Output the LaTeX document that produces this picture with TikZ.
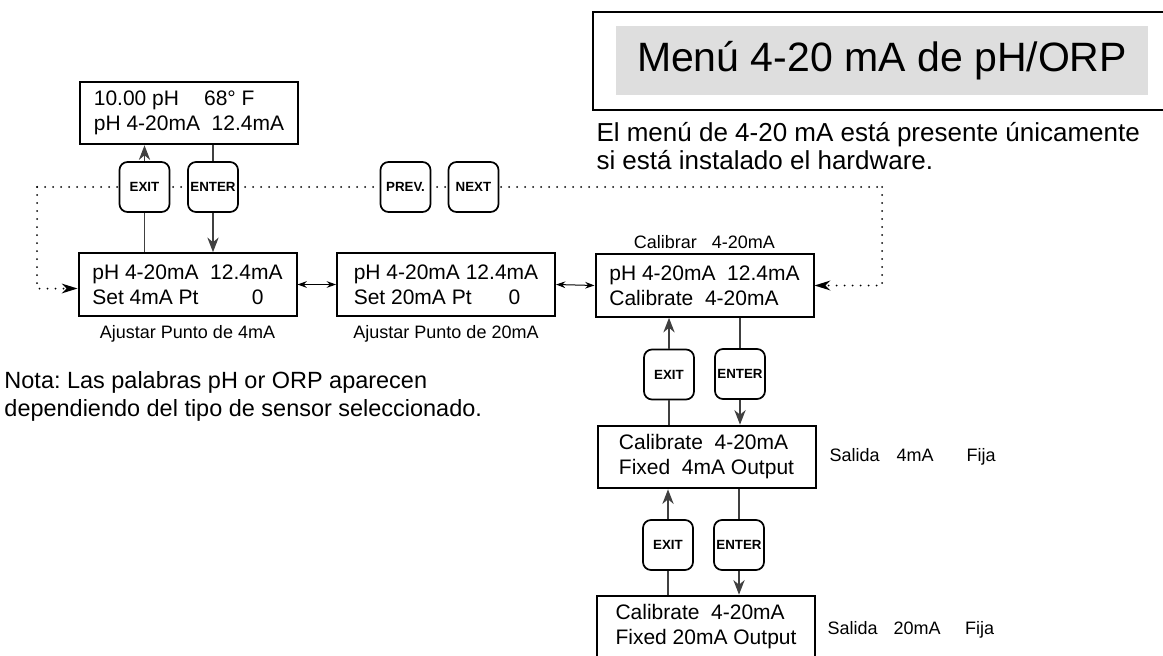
\documentclass[tikz,border=0pt]{standalone}
\usepackage{fontspec}
\setmainfont{Liberation Sans}
\usetikzlibrary{arrows.meta,positioning}
\frenchspacing

\tikzset{every picture/.style={line width=0.75pt}}
\tikzset{
  lcd/.style={draw, line width=1.5pt, minimum width=163.5pt, minimum height=47pt, align=left, inner sep=0pt, font=\fontsize{15.75}{18.75}\selectfont},
  btn/.style={draw, fill=white, line width=1.3pt, rounded corners=6pt, minimum width=37.5pt, minimum height=37.5pt, inner sep=0pt, font=\fontsize{10}{11}\selectfont\bfseries},
  lbl/.style={inner sep=0.75pt, font=\fontsize{13.5}{16}\selectfont},
  note/.style={inner sep=0.75pt, align=left},
  dotline/.style={line width=1.5pt, line cap=round, dash pattern=on 0pt off 6pt},
  flow/.style={color=black!75, line width=0.9pt},
  bigtip/.style={-{Stealth[length=11pt,width=8.5pt]}},
  dottip/.style={-{Stealth[length=12pt,width=7.5pt,line width=0pt]}},
  duotip/.style={{Stealth[length=7pt,width=5pt]}-{Stealth[length=7pt,width=5pt]}},
}

\begin{document}
\begin{tikzpicture}[x=0.75pt,y=0.75pt,yscale=-1,xscale=1]
\useasboundingbox (0,0) rectangle (1163,656);

%Title frame
\draw [line width=1.5pt]   (1163,12) -- (593,12) -- (593,110) -- (1163,110) ;
% Text Node
\node [fill=black!13, minimum width=399pt, minimum height=51.75pt, inner sep=0pt, font=\fontsize{30.75}{36}\selectfont] (title) at (882,60.5) {Menú 4-20 mA de pH/ORP};
% Text Node
\node [note, anchor=north west, font=\fontsize{19.5}{21}\selectfont] (hw) at (595,121) {El menú de 4-20 mA está presente únicamente\\si está instalado el hardware.};
% Text Node
\node [note, anchor=north west, font=\fontsize{17.6}{21}\selectfont] (nota) at (3,370) {Nota: Las palabras pH or ORP aparecen\\dependiendo del tipo de sensor seleccionado.};

% Display boxes
\node [lcd] (A) at (189,113) {10.00 pH\hspace{18.75pt}68° F\\pH 4-20mA~~12.4mA};
\node [lcd] (B) at (187.5,284.5) {pH 4-20mA~~12.4mA\\Set 4mA Pt\hspace{40pt}0};
\node [lcd] (C) at (446,284.5) {pH 4-20mA 12.4mA\\Set 20mA Pt\hspace{27.75pt}0};
\node [lcd] (D) at (704.5,285.5) {pH 4-20mA~~12.4mA\\Calibrate~~4-20mA};
\node [lcd] (E) at (706.5,457) {Calibrate~~4-20mA\\Fixed~~4mA Output};
\node [lcd] (F) at (706,627) {Calibrate~~4-20mA\\Fixed 20mA Output};

% Text Node
\node [lbl, above=2pt of D] (calib) {Calibrar~~~4-20mA};
% Text Node
\node [lbl, below=5pt of B] (set4) {Ajustar Punto de 4mA};
% Text Node
\node [lbl, below=5pt of C] (set20) {Ajustar Punto de 20mA};
% Text Node
\node [lbl, anchor=west] (out4) at (828,457) {Salida\hspace{12.75pt}4mA\hspace{24.75pt}Fija};
% Text Node
\node [lbl, anchor=west] (out20) at (826,630) {Salida\hspace{12pt}20mA\hspace{18.4pt}Fija};

%Dotted loop
\coordinate (loopL) at (37,187);
\coordinate (loopR) at (882,187);
\draw [dotline]   (loopL) -- (loopR) ;
\draw [dotline, dottip]   (loopL) |- ([yshift=3pt]B.west) ;
\draw [dotline, dottip]   (loopR) |- (D.east) ;

% Keys
\node [btn] (exitA) at (144.5,187) {EXIT};
\node [btn] (enterA) at (213,187) {ENTER};
\node [btn] (prev) at (405.5,187) {PREV.};
\node [btn] (next) at (473.5,187) {NEXT};
\node [btn] (exitB) at (669,374.5) {EXIT};
\node [btn] (enterB) at (740,374) {ENTER};
\node [btn] (exitC) at (668,545) {EXIT};
\node [btn] (enterC) at (739,545) {ENTER};

%Straight Lines
\draw [flow, bigtip]   (exitA.north) -- (exitA.north |- A.south) ;
\draw [flow]   (exitA.south) -- (exitA.south |- B.north) ;
\draw [flow]   (enterA.north |- A.south) -- (enterA.north) ;
\draw [flow, bigtip]   (enterA.south) -- (enterA.south |- B.north) ;
%Straight Lines
\draw [flow, bigtip]   (exitB.north) -- (exitB.north |- D.south) ;
\draw [flow]   (exitB.south) -- (exitB.south |- E.north) ;
\draw [flow]   (enterB.north |- D.south) -- (enterB.north) ;
\draw [flow, bigtip]   (enterB.south) -- (enterB.south |- E.north) ;
%Straight Lines
\draw [flow, bigtip]   (exitC.north) -- (exitC.north |- E.south) ;
\draw [flow]   (exitC.south) -- (exitC.south |- F.north) ;
\draw [flow]   (enterC.north |- E.south) -- (enterC.north) ;
\draw [flow, bigtip]   (enterC.south) -- (enterC.south |- F.north) ;
%Straight Lines
\draw [duotip]   (B.east) -- (C.west) ;
\draw [duotip]   (C.east) -- (D.west) ;

\end{tikzpicture}
\end{document}
